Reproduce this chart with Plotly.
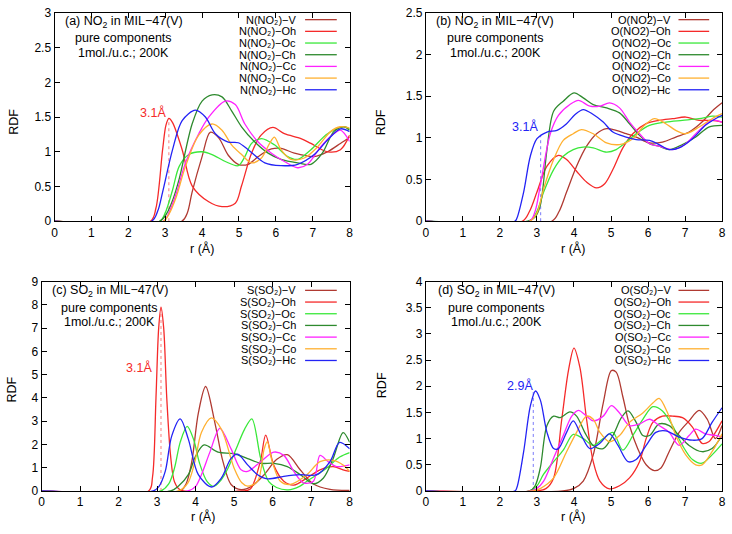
import plotly.graph_objects as go

W, H = 732, 534

# ---------------- data (r in Å, g = RDF) ----------------
labels = ["V", "Oh", "Oc", "Ch", "Cc", "Co", "Hc"]
colors = ["#b03a32", "#f52a2a", "#3ae83a", "#2e8a2e", "#ff22ff", "#ffb030", "#2323f5"]

# (a) N(NO2)
a_V_r = [0, 3.45, 3.6, 3.73, 4.0, 4.22, 4.45, 4.71, 4.98, 5.25, 5.52, 5.88, 6.14, 6.5, 7.04, 7.4, 7.75, 8.0]
a_V_g = [0, 0, 0.12, 0.42, 0.93, 1.28, 1.2, 0.95, 0.82, 0.82, 0.93, 1.04, 1.05, 0.98, 0.93, 1.0, 1.12, 1.21]
a_Oh_r = [0, 2.6, 2.75, 2.93, 3.02, 3.1, 3.2, 3.46, 3.73, 4.18, 4.54, 4.9, 5.07, 5.34, 5.6, 5.92, 6.23, 6.68, 6.95, 7.4, 7.75, 8.0]
a_Oh_g = [0, 0, 0.19, 1.03, 1.38, 1.48, 1.42, 1.03, 0.51, 0.28, 0.21, 0.26, 0.51, 0.98, 1.24, 1.35, 1.26, 1.19, 1.12, 1.0, 1.03, 1.24]
a_Oc_r = [0, 2.85, 3.0, 3.2, 3.38, 3.64, 4.0, 4.27, 4.63, 4.98, 5.16, 5.34, 5.61, 5.96, 6.32, 6.59, 6.95, 7.4, 7.84, 8.0]
a_Oc_g = [0, 0, 0.12, 0.45, 0.79, 0.96, 1.0, 0.96, 0.86, 0.8, 0.93, 1.12, 1.19, 1.1, 0.93, 0.89, 1.03, 1.26, 1.36, 1.33]
a_Ch_r = [0, 2.85, 3.05, 3.2, 3.38, 3.73, 4.0, 4.27, 4.54, 4.8, 5.07, 5.43, 5.79, 6.14, 6.59, 6.95, 7.26, 7.57, 7.84, 8.0]
a_Ch_g = [0, 0, 0.12, 0.3, 0.61, 1.4, 1.73, 1.82, 1.79, 1.59, 1.36, 1.14, 0.98, 0.89, 0.84, 0.82, 0.98, 1.29, 1.36, 1.31]
a_Cc_r = [0, 2.95, 3.1, 3.3, 3.55, 3.91, 4.18, 4.63, 4.9, 5.16, 5.52, 5.88, 6.23, 6.59, 6.86, 7.21, 7.57, 7.75, 8.0]
a_Cc_g = [0, 0, 0.12, 0.4, 0.84, 1.26, 1.5, 1.73, 1.68, 1.4, 1.14, 0.98, 0.86, 0.77, 0.82, 1.07, 1.26, 1.31, 1.15]
a_Co_r = [0, 2.95, 3.1, 3.3, 3.55, 3.91, 4.27, 4.54, 4.8, 5.07, 5.34, 5.61, 5.83, 5.96, 6.14, 6.41, 6.77, 7.13, 7.48, 7.75, 8.0]
a_Co_g = [0, 0, 0.1, 0.35, 0.79, 1.24, 1.4, 1.31, 1.1, 0.96, 0.84, 0.91, 1.12, 1.21, 1.03, 0.89, 0.91, 1.07, 1.29, 1.36, 1.34]
a_Hc_r = [0, 2.63, 2.8, 2.93, 3.2, 3.46, 3.82, 4.09, 4.36, 4.71, 4.98, 5.25, 5.7, 6.14, 6.59, 7.04, 7.4, 7.75, 8.0]
a_Hc_g = [0, 0, 0.15, 0.42, 1.03, 1.45, 1.6, 1.5, 1.26, 1.14, 1.13, 1.03, 0.84, 0.8, 0.82, 0.96, 1.17, 1.33, 1.29]

# (b) O(NO2)
b_V_r = [0, 3.4, 3.6, 3.8, 4.07, 4.34, 4.61, 4.88, 5.14, 5.41, 5.68, 6.04, 6.39, 6.75, 7.11, 7.46, 7.73, 8.0]
b_V_g = [0, 0, 0.12, 0.35, 0.66, 0.9, 1.05, 1.11, 1.09, 1.05, 1.01, 0.94, 0.95, 1.01, 1.07, 1.19, 1.32, 1.42]
b_Oh_r = [0, 2.6, 2.8, 3.0, 3.27, 3.58, 3.8, 4.07, 4.34, 4.61, 4.83, 5.05, 5.32, 5.59, 5.95, 6.3, 6.66, 7.02, 7.38, 7.73, 8.0]
b_Oh_g = [0, 0, 0.12, 0.35, 0.66, 0.79, 0.74, 0.6, 0.47, 0.4, 0.45, 0.62, 0.88, 1.05, 1.17, 1.21, 1.23, 1.25, 1.21, 1.21, 1.19]
b_Oc_r = [0, 2.8, 3.0, 3.18, 3.45, 3.71, 3.98, 4.25, 4.52, 4.88, 5.14, 5.41, 5.68, 6.04, 6.48, 6.93, 7.38, 7.73, 8.0]
b_Oc_g = [0, 0, 0.12, 0.35, 0.62, 0.78, 0.86, 0.89, 0.88, 0.83, 0.86, 0.95, 1.05, 1.15, 1.19, 1.21, 1.23, 1.26, 1.25]
b_Ch_r = [0, 2.75, 2.95, 3.09, 3.27, 3.45, 3.71, 4.0, 4.25, 4.52, 4.88, 5.23, 5.5, 5.77, 6.04, 6.3, 6.57, 6.93, 7.29, 7.64, 8.0]
b_Ch_g = [0, 0, 0.05, 0.19, 0.86, 1.32, 1.44, 1.54, 1.48, 1.4, 1.36, 1.3, 1.17, 1.03, 0.93, 0.9, 0.86, 0.92, 1.01, 1.13, 1.15]
b_Cc_r = [0, 2.8, 2.95, 3.09, 3.36, 3.58, 3.89, 4.12, 4.43, 4.7, 4.96, 5.23, 5.5, 5.77, 6.04, 6.3, 6.66, 7.02, 7.38, 7.73, 8.0]
b_Cc_g = [0, 0, 0.12, 0.43, 1.05, 1.27, 1.4, 1.45, 1.38, 1.38, 1.42, 1.36, 1.19, 1.05, 0.93, 0.9, 0.86, 0.93, 1.09, 1.21, 1.19]
b_Co_r = [0, 2.8, 3.0, 3.18, 3.45, 3.71, 3.98, 4.2, 4.52, 4.88, 5.23, 5.59, 5.86, 6.17, 6.48, 6.75, 7.02, 7.38, 7.73, 8.0]
b_Co_g = [0, 0, 0.1, 0.39, 0.74, 0.97, 1.05, 1.1, 1.05, 0.94, 0.92, 0.99, 1.13, 1.23, 1.17, 1.09, 1.05, 1.13, 1.23, 1.29]
b_Hc_r = [0, 2.4, 2.46, 2.64, 2.82, 3.0, 3.27, 3.54, 3.8, 4.03, 4.25, 4.52, 4.79, 5.05, 5.41, 5.68, 6.04, 6.3, 6.57, 6.84, 7.2, 7.55, 7.82, 8.0]
b_Hc_g = [0, 0, 0.04, 0.35, 0.78, 0.99, 1.07, 1.09, 1.17, 1.28, 1.34, 1.28, 1.19, 1.07, 1.01, 0.98, 0.97, 0.92, 0.86, 0.88, 0.99, 1.15, 1.23, 1.27]

# (c) S(SO2)
c_V_r = [0, 3.6, 3.75, 3.9, 4.07, 4.26, 4.5, 4.71, 4.92, 5.18, 5.45, 5.78, 6.1, 6.38, 6.72, 7.06, 7.49, 8.0]
c_V_g = [0, 0, 0.3, 1.26, 3.35, 4.49, 2.93, 1.26, 0.28, 0.06, 0.2, 0.7, 1.35, 1.56, 0.9, 0.3, 0.07, 0.03]
c_Oh_r = [0, 2.78, 2.88, 2.97, 3.04, 3.1, 3.17, 3.25, 3.35, 3.45, 3.6, 5.2, 5.42, 5.68, 5.82, 6.03, 6.29, 6.55, 6.89, 7.23, 7.57, 7.83, 8.0]
c_Oh_g = [0, 0, 0.6, 4.0, 7.0, 7.9, 7.0, 4.0, 1.5, 0.4, 0.05, 0, 0.08, 1.27, 2.4, 1.1, 0.42, 0.25, 0.56, 0.91, 1.05, 0.91, 0.84]
c_Oc_r = [0, 3.1, 3.3, 3.45, 3.6, 3.78, 3.95, 4.1, 4.3, 4.47, 4.65, 4.84, 5.05, 5.27, 5.46, 5.69, 5.9, 6.1, 6.4, 6.7, 6.89, 7.15, 7.4, 7.74, 8.0]
c_Oc_g = [0, 0, 0.3, 0.98, 2.1, 2.78, 2.2, 1.2, 0.4, 0.2, 0.45, 0.98, 1.8, 2.65, 3.1, 1.39, 0.4, 0.15, 0.05, 0.2, 0.42, 0.7, 0.98, 1.46, 1.65]
c_Ch_r = [0, 3.35, 3.55, 3.81, 4.0, 4.22, 4.58, 5.0, 5.35, 5.69, 6.03, 6.38, 6.72, 7.06, 7.32, 7.57, 7.83, 8.0]
c_Ch_g = [0, 0, 0.2, 0.7, 1.5, 1.98, 1.67, 1.6, 1.39, 1.19, 1.19, 1.05, 0.7, 0.31, 0.56, 1.39, 2.51, 2.09]
c_Cc_r = [0, 3.8, 4.0, 4.15, 4.37, 4.63, 4.92, 5.18, 5.35, 5.69, 6.03, 6.29, 6.55, 6.8, 7.06, 7.23, 7.44, 7.66, 8.0]
c_Cc_g = [0, 0, 0.2, 0.7, 1.67, 2.69, 1.81, 0.91, 0.84, 1.26, 1.67, 1.53, 0.84, 0.35, 0.42, 1.53, 1.26, 1.05, 1.12]
c_Co_r = [0, 3.55, 3.8, 3.98, 4.15, 4.41, 4.67, 5.0, 5.2, 5.35, 5.61, 5.78, 5.86, 5.99, 6.2, 6.46, 6.89, 7.23, 7.57, 7.83, 8.0]
c_Co_g = [0, 0, 0.35, 1.26, 2.51, 3.14, 2.65, 0.98, 0.35, 0.21, 0.42, 1.81, 2.12, 1.26, 0.42, 0.28, 0.7, 1.26, 1.32, 1.12, 0.84]
c_Hc_r = [0, 2.9, 3.05, 3.21, 3.38, 3.6, 3.81, 4.07, 4.41, 4.67, 4.92, 5.09, 5.35, 5.61, 5.86, 6.29, 6.72, 7.15, 7.49, 7.74, 8.0]
c_Hc_g = [0, 0, 0.2, 0.84, 2.37, 3.1, 2.23, 0.7, 0.17, 0.56, 1.4, 1.58, 1.12, 0.7, 0.52, 0.63, 0.7, 0.7, 1.26, 2.09, 1.81]

# (d) O(SO2)
d_V_r = [0, 3.7, 4.0, 4.25, 4.52, 4.79, 5.01, 5.14, 5.32, 5.5, 5.72, 5.95, 6.17, 6.35, 6.57, 6.84, 7.11, 7.38, 7.6, 7.82, 8.0]
d_V_g = [0, 0, 0.05, 0.19, 0.69, 1.68, 2.3, 2.27, 1.8, 1.25, 0.81, 0.5, 0.39, 0.44, 0.75, 1.12, 1.34, 1.54, 1.37, 1.0, 1.25]
d_Oh_r = [0, 3.0, 3.25, 3.45, 3.67, 3.85, 4.0, 4.16, 4.34, 4.52, 4.7, 4.96, 5.23, 5.5, 5.77, 5.95, 6.13, 6.39, 6.66, 6.93, 7.2, 7.46, 7.64, 7.82, 8.0]
d_Oh_g = [0, 0, 0.05, 0.25, 1.37, 2.3, 2.73, 2.36, 1.37, 0.56, 0.19, 0.04, 0.1, 0.25, 0.56, 1.0, 1.31, 1.43, 1.43, 1.4, 1.22, 0.91, 0.94, 1.12, 1.34]
d_Oc_r = [0, 2.8, 3.0, 3.18, 3.45, 3.71, 3.98, 4.25, 4.52, 4.79, 5.05, 5.32, 5.59, 5.86, 6.13, 6.39, 6.66, 6.93, 7.2, 7.46, 7.73, 8.0]
d_Oc_g = [0, 0, 0.1, 0.32, 0.56, 0.78, 1.08, 1.0, 0.87, 1.0, 1.12, 0.78, 1.06, 1.37, 1.61, 1.53, 1.25, 0.87, 0.6, 0.53, 0.69, 0.9]
d_Ch_r = [0, 2.8, 2.95, 3.09, 3.27, 3.45, 3.63, 3.89, 4.07, 4.29, 4.52, 4.79, 5.05, 5.28, 5.46, 5.68, 5.86, 6.04, 6.3, 6.57, 6.84, 7.11, 7.46, 7.73, 8.0]
d_Ch_g = [0, 0, 0.1, 0.44, 1.25, 1.43, 1.4, 1.51, 1.43, 1.12, 0.87, 0.81, 1.06, 1.4, 1.53, 1.31, 1.06, 1.06, 1.28, 1.25, 1.06, 0.87, 0.75, 0.81, 1.06]
d_Cc_r = [0, 2.85, 3.0, 3.18, 3.45, 3.71, 3.94, 4.12, 4.34, 4.52, 4.79, 5.01, 5.23, 5.5, 5.77, 6.04, 6.3, 6.57, 6.84, 7.11, 7.29, 7.55, 7.82, 8.0]
d_Cc_g = [0, 0, 0.05, 0.19, 0.63, 1.06, 1.43, 1.54, 1.43, 1.34, 1.43, 1.63, 1.49, 1.25, 1.28, 1.37, 1.25, 1.12, 0.87, 1.06, 1.18, 1.09, 1.06, 1.03]
d_Co_r = [0, 2.9, 3.1, 3.45, 3.8, 4.07, 4.34, 4.52, 4.7, 4.96, 5.23, 5.5, 5.86, 6.13, 6.3, 6.53, 6.75, 7.02, 7.29, 7.46, 7.73, 8.0]
d_Co_g = [0, 0, 0.05, 0.25, 0.75, 1.12, 1.43, 1.37, 1.12, 0.94, 1.06, 1.31, 1.49, 1.68, 1.77, 1.49, 1.06, 0.69, 0.5, 0.5, 0.75, 1.09]
d_Hc_r = [0, 2.4, 2.46, 2.64, 2.82, 2.96, 3.09, 3.27, 3.45, 3.58, 3.8, 3.98, 4.2, 4.43, 4.7, 4.96, 5.19, 5.46, 5.68, 5.95, 6.21, 6.48, 6.84, 7.2, 7.46, 7.73, 8.0]
d_Hc_g = [0, 0, 0.07, 0.75, 1.62, 1.91, 1.74, 1.12, 0.81, 0.81, 1.12, 1.34, 1.06, 0.81, 0.91, 1.09, 0.87, 0.56, 0.6, 0.87, 1.12, 1.15, 1.03, 0.97, 1.0, 1.31, 1.59]

# first-peak markers
peak_r = [3.1, 3.1, 3.1, 2.9]
peak_g = [1.48, 1.03, 7.9, 1.91]
peak_labels = ["3.1Å", "3.1Å", "3.1Å", "2.9Å"]
peak_colors = ["#f52a2a", "#2323f5", "#f52a2a", "#2323f5"]

y_ranges = [3, 2.5, 9, 4]
y_dticks = [0.5, 0.5, 1, 0.5]
titles = ["(a) NO<sub>2</sub> in MIL−47(V)", "(b) NO<sub>2</sub> in MIL−47(V)",
          "(c) SO<sub>2</sub> in MIL−47(V)", "(d) SO<sub>2</sub> in MIL−47(V)"]
legend_prefix = ["N(NO₂)", "O(NO2)", "S(SO₂)", "O(SO₂)"]

series = {
    "a": [(a_V_r, a_V_g), (a_Oh_r, a_Oh_g), (a_Oc_r, a_Oc_g), (a_Ch_r, a_Ch_g), (a_Cc_r, a_Cc_g), (a_Co_r, a_Co_g), (a_Hc_r, a_Hc_g)],
    "b": [(b_V_r, b_V_g), (b_Oh_r, b_Oh_g), (b_Oc_r, b_Oc_g), (b_Ch_r, b_Ch_g), (b_Cc_r, b_Cc_g), (b_Co_r, b_Co_g), (b_Hc_r, b_Hc_g)],
    "c": [(c_V_r, c_V_g), (c_Oh_r, c_Oh_g), (c_Oc_r, c_Oc_g), (c_Ch_r, c_Ch_g), (c_Cc_r, c_Cc_g), (c_Co_r, c_Co_g), (c_Hc_r, c_Hc_g)],
    "d": [(d_V_r, d_V_g), (d_Oh_r, d_Oh_g), (d_Oc_r, d_Oc_g), (d_Ch_r, d_Ch_g), (d_Cc_r, d_Cc_g), (d_Co_r, d_Co_g), (d_Hc_r, d_Hc_g)],
}

# ---------------- layout geometry (pixels) ----------------
def px(x, y):
    return x / W, 1 - y / H

boxes = [(52, 350, 6, 220), (427, 726, 6, 220), (39, 350, 282, 497), (427, 726, 282, 497)]
info_pos = [(122, 15, 32, 47), (497, 15, 32, 47), (108, 292, 309, 323), (498, 292, 309, 323)]
leg_text_right = [298, 676, 298, 676]
leg_line = [(305, 337), (682, 713), (305, 337), (682, 713)]
leg_top = [13, 13, 291, 291]
leg_step = 12
rdf_pos = [(11, 118), (382, 118), (9, 393), (382, 388)]
r_pos = [(201, 248), (575, 248), (202, 523), (575, 523)]
peak_lab_pos = [(151, 108), (527, 123), (137, 370), (522, 389)]

font = "Liberation Sans, Arial, Helvetica, sans-serif"
fig = go.Figure()
layout = dict(width=W, height=H, margin=dict(l=0, r=0, t=0, b=0),
              paper_bgcolor="white", plot_bgcolor="white", showlegend=False,
              font=dict(family=font, size=12, color="black"))
annotations = []
shapes = []

for i, key in enumerate(["a", "b", "c", "d"]):
    n = "" if i == 0 else str(i + 1)
    xl, xr, yt, yb = boxes[i]
    x0, y1 = px(xl, yt)
    x1, y0 = px(xr, yb)
    ax = dict(range=[0, 8], dtick=1, tick0=0, domain=[x0, x1], anchor="y" + n,
              ticks="inside", ticklen=5, tickwidth=1, tickcolor="black", mirror="ticks",
              showline=True, linecolor="black", linewidth=1, showgrid=False, zeroline=False,
              tickfont=dict(size=12, family=font), fixedrange=True)
    ay = dict(range=[0, y_ranges[i]], dtick=y_dticks[i], tick0=0, domain=[y0, y1], anchor="x" + n,
              ticks="inside", ticklen=5, tickwidth=1, tickcolor="black", mirror="ticks",
              showline=True, linecolor="black", linewidth=1, showgrid=False, zeroline=False,
              tickfont=dict(size=12, family=font), fixedrange=True)
    layout["xaxis" + n] = ax
    layout["yaxis" + n] = ay

    # dotted marker line at first peak
    fig.add_trace(go.Scatter(x=[peak_r[i], peak_r[i]], y=[0, peak_g[i]], mode="lines",
                             line=dict(color=peak_colors[i], width=1, dash="dot"),
                             xaxis="x" + n, yaxis="y" + n, hoverinfo="skip", opacity=0.6))
    for j, (rr, gg) in enumerate(series[key]):
        fig.add_trace(go.Scatter(x=rr, y=gg, mode="lines", line=dict(color=colors[j], width=1.3, shape="spline", smoothing=0.9),
                                 xaxis="x" + n, yaxis="y" + n, name=legend_prefix[i] + "−" + labels[j]))
        # legend row
        ty = leg_top[i] + j * leg_step
        tx, tyf = px(leg_text_right[i], ty)
        annotations.append(dict(x=tx, y=tyf, xref="paper", yref="paper", xanchor="right", yanchor="middle",
                                text=legend_prefix[i] + "−" + labels[j], showarrow=False,
                                font=dict(size=11, family=font, color="black")))
        lx0, _ = px(leg_line[i][0], ty)
        lx1, _ = px(leg_line[i][1], ty)
        shapes.append(dict(type="line", xref="paper", yref="paper", x0=lx0, x1=lx1, y0=tyf, y1=tyf,
                           line=dict(color=colors[j], width=1.3)))

    # panel info text
    cx = info_pos[i][0]
    for k, txt in enumerate([titles[i], "pure components", "1mol./u.c.; 200K"]):
        xx, yy = px(cx, info_pos[i][k + 1])
        annotations.append(dict(x=xx, y=yy, xref="paper", yref="paper", xanchor="center", yanchor="middle",
                                text=txt, showarrow=False, font=dict(size=12.5, family=font, color="black")))
    # axis titles
    xx, yy = px(*rdf_pos[i])
    annotations.append(dict(x=xx, y=yy, xref="paper", yref="paper", text="RDF", textangle=-90,
                            showarrow=False, xanchor="center", yanchor="middle", font=dict(size=12.5, family=font)))
    xx, yy = px(*r_pos[i])
    annotations.append(dict(x=xx, y=yy, xref="paper", yref="paper", text="r (Å)",
                            showarrow=False, xanchor="center", yanchor="middle", font=dict(size=12.5, family=font)))
    # peak label
    xx, yy = px(*peak_lab_pos[i])
    annotations.append(dict(x=xx, y=yy, xref="paper", yref="paper", text=peak_labels[i],
                            showarrow=False, xanchor="center", yanchor="middle",
                            font=dict(size=12.5, family=font, color=peak_colors[i])))

layout["annotations"] = annotations
layout["shapes"] = shapes
fig.update_layout(**layout)
fig.write_html("out.html")
